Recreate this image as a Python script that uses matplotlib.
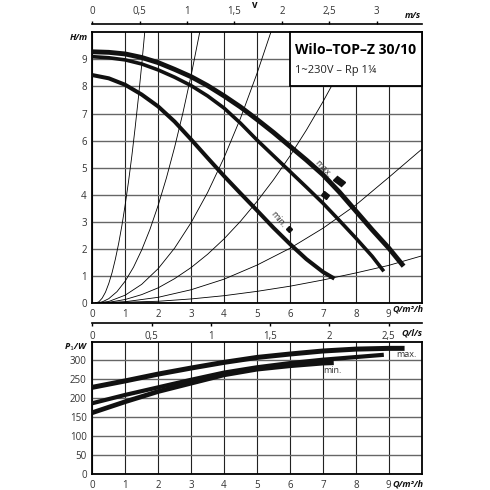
import matplotlib
matplotlib.use("Agg")
import matplotlib.pyplot as plt
from matplotlib.markers import MarkerStyle
from matplotlib.transforms import Affine2D
from matplotlib.patches import Rectangle

plt.rcParams['font.family'] = ['Open Sans', 'DejaVu Sans']

# --- pump curves H(Q)
q_max = [0, 0.5, 1, 1.5, 2, 2.5, 3, 3.5, 4, 4.5, 5, 5.5, 6, 6.5, 7, 7.5, 8, 8.5, 9, 9.45]
h_max = [9.28, 9.26, 9.2, 9.07, 8.88, 8.63, 8.36, 8.03, 7.65, 7.24, 6.78, 6.3,
         5.79, 5.28, 4.74, 4.1, 3.4, 2.7, 2.03, 1.36]
q_mid = [0, 0.5, 1, 1.5, 2, 2.5, 3, 3.5, 4, 4.5, 5, 5.5, 6, 6.5, 7, 7.5, 8, 8.5, 8.85]
h_mid = [9.1, 9.06, 8.98, 8.83, 8.61, 8.34, 8.03, 7.65, 7.2, 6.64, 6.02, 5.44,
         4.86, 4.28, 3.69, 3.05, 2.4, 1.72, 1.17]
q_min = [0, 0.5, 1, 1.5, 2, 2.5, 3, 3.5, 4, 4.5, 5, 5.5, 6, 6.5, 7, 7.35]
h_min = [8.42, 8.3, 8.06, 7.7, 7.26, 6.7, 6.04, 5.36, 4.69, 4.05, 3.42, 2.78,
         2.18, 1.62, 1.15, 0.9]

# thin system curves (Q, H) pairs
sys_curves = [
    ([0.1, 0.2, 0.3, 0.4, 0.5, 0.6, 0.7, 0.8, 0.9, 1.0, 1.1, 1.2, 1.3, 1.4, 1.5, 1.62],
     [0, 0.045, 0.18, 0.40, 0.72, 1.12, 1.62, 2.2, 2.87, 3.64, 4.49, 5.43, 6.47,
      7.59, 8.8, 10.37]),
    ([0.1, 0.3, 0.5, 0.75, 1.0, 1.25, 1.5, 1.75, 2.0, 2.25, 2.5, 2.75, 3.0, 3.3],
     [0, 0.04, 0.16, 0.42, 0.81, 1.32, 1.96, 2.72, 3.61, 4.62, 5.76, 7.02, 8.41, 10.24]),
    ([0.1, 0.5, 1, 1.5, 2, 2.5, 3, 3.5, 4, 4.5, 5, 5.5],
     [0, 0.056, 0.29, 0.69, 1.27, 2.03, 2.97, 4.08, 5.37, 6.83, 8.48, 10.29]),
    ([0.1, 0.5, 1, 1.5, 2, 2.5, 3, 3.5, 4, 4.5, 5, 5.5, 6, 6.5, 7, 7.5, 8, 8.1],
     [0, 0.025, 0.13, 0.31, 0.56, 0.90, 1.31, 1.80, 2.37, 3.02, 3.75, 4.55, 5.43,
      6.39, 7.43, 8.54, 9.74, 9.98]),
    ([0.1, 1, 2, 3, 4, 5, 6, 7, 8, 9, 10],
     [0, 0.047, 0.21, 0.49, 0.88, 1.40, 2.02, 2.76, 3.62, 4.64, 5.68]),
    ([0.1, 2, 3, 4, 5, 6, 7, 8, 9, 10],
     [0, 0.064, 0.15, 0.27, 0.43, 0.62, 0.85, 1.11, 1.39, 1.74]),
]

# duty point markers
mark_q = [7.5, 7.05, 5.97]
mark_h = [4.52, 4.0, 2.72]

# --- power curves P1(Q)
pq_max = [0, 1, 2, 3, 4, 5, 6, 7, 8, 9, 9.48]
p_max = [229, 246, 264, 280, 295, 308, 317, 325, 330, 332, 332]
pq_mid = [0, 1, 2, 3, 4, 5, 6, 7, 8, 8.85]
p_mid = [187, 209, 229, 249, 268, 282, 293, 302, 309, 315]
pq_min = [0, 1, 2, 3, 4, 5, 6, 7, 7.33]
p_min = [162, 191, 218, 240, 262, 277, 286, 293, 294]

q_ticks = list(range(10))
h_ticks = list(range(10))
p_ticks = [0, 50, 100, 150, 200, 250, 300]
v_ticks = [0, 0.5, 1, 1.5, 2, 2.5, 3]
v_labels = ['0', '0,5', '1', '1,5', '2', '2,5', '3']
ls_ticks = [0, 0.5, 1, 1.5, 2, 2.5]
ls_labels = ['0', '0,5', '1', '1,5', '2', '2,5']

W = 490.0
def box(x0, y0, x1, y1):
    return [x0 / W, 1 - y1 / W, (x1 - x0) / W, (y1 - y0) / W]

fig = plt.figure(figsize=(4.9, 4.9), dpi=100)
fig.patch.set_facecolor('white')

TICK_C = '#333333'
FS = 7

def style_axes(ax):
    for s in ax.spines.values():
        s.set_linewidth(1.3)
        s.set_color('black')
    ax.tick_params(length=0, labelsize=FS, labelcolor=TICK_C, pad=4)
    ax.xaxis.grid(True, color='#222222', lw=0.8)
    ax.yaxis.grid(True, color='#666666', lw=1.0)
    ax.set_axisbelow(True)

# ---------- top chart
ax1 = fig.add_axes(box(92.3, 32.3, 421.7, 303))
ax1.set_xlim(0, 10)
ax1.set_ylim(0, 10)
ax1.set_xticks(q_ticks)
ax1.set_yticks(h_ticks)
style_axes(ax1)

for qs, hs in sys_curves:
    ax1.plot(qs, hs, color='black', lw=0.6, zorder=2)

ax1.plot(q_max, h_max, color='#111111', lw=3.5, solid_capstyle='butt', zorder=3)
ax1.plot(q_mid, h_mid, color='#111111', lw=2.6, solid_capstyle='butt', zorder=3)
ax1.plot(q_min, h_min, color='#111111', lw=2.9, solid_capstyle='butt', zorder=3)

mk_scale = [(2.0, 1.1), (1.4, 1.1), (1.0, 1.2)]
mk_size = [3.6, 3.5, 3.0]
for q, h, sc, ms in zip(mark_q, mark_h, mk_scale, mk_size):
    m = MarkerStyle('s', transform=Affine2D().scale(*sc).rotate_deg(-42))
    ax1.plot([q], [h], marker=m, ms=ms, color='#111111', ls='none', zorder=4)

ax1.text(7.01, 4.96, 'max.', rotation=-47, fontsize=6.5, color='#333333',
         ha='center', va='center', zorder=4)
ax1.text(5.64, 3.1, 'min.', rotation=-50, fontsize=6.5, color='#333333',
         ha='center', va='center', zorder=4)

ax1.add_patch(Rectangle((6, 8), 4, 2, facecolor='white', edgecolor='black',
                        lw=1.3, zorder=5, clip_on=False))
ax1.text(6.15, 9.35, 'Wilo–TOP–Z 30/10', fontsize=10, fontweight='bold',
         ha='left', va='center', zorder=6)
ax1.text(6.15, 8.6, '1~230V – Rp 1¼', fontsize=8, ha='left', va='center',
         color='#222222', zorder=6)

# velocity axis on top
axv = fig.add_axes(box(92.3, 23.6, 421.7, 24))
axv.set_xlim(0, 3.475)
axv.set_ylim(0, 1)
axv.patch.set_visible(False)
for k in ['left', 'right', 'bottom']:
    axv.spines[k].set_visible(False)
axv.spines['top'].set_linewidth(1.2)
axv.set_yticks([])
axv.xaxis.tick_top()
axv.set_xticks(v_ticks)
axv.set_xticklabels(v_labels)
axv.tick_params(axis='x', direction='out', length=2.5, width=1.0,
                labelsize=FS, labelcolor=TICK_C, pad=2)

# ---------- l/s axis between charts
axl = fig.add_axes(box(92.3, 322.7, 421.7, 323.1))
axl.set_xlim(0, 10 / 3.6)
axl.set_ylim(0, 1)
axl.patch.set_visible(False)
for k in ['left', 'right', 'top']:
    axl.spines[k].set_visible(False)
axl.spines['bottom'].set_linewidth(1.2)
axl.set_yticks([])
axl.set_xticks(ls_ticks)
axl.set_xticklabels(ls_labels)
axl.tick_params(axis='x', direction='out', length=2.5, width=1.0,
                labelsize=FS, labelcolor=TICK_C, pad=3)

# ---------- bottom chart
ax2 = fig.add_axes(box(92.3, 342.3, 421.7, 474))
ax2.set_xlim(0, 10)
ax2.set_ylim(0, 348)
ax2.set_xticks(q_ticks)
ax2.set_yticks(p_ticks)
style_axes(ax2)

ax2.plot(pq_max, p_max, color='#111111', lw=3.6, solid_capstyle='butt', zorder=3)
ax2.plot(pq_mid, p_mid, color='#111111', lw=3.0, solid_capstyle='butt', zorder=3)
ax2.plot(pq_min, p_min, color='#111111', lw=3.4, solid_capstyle='butt', zorder=3)
ax2.text(9.23, 315, 'max.', fontsize=6.5, color='#333333', ha='left', va='center')
ax2.text(7.0, 273, 'min.', fontsize=6.5, color='#333333', ha='left', va='center')

# ---------- axis titles
lab = dict(fontsize=6.5, fontweight='bold', fontstyle='italic', color='#111111')
fig.text(88 / W, 1 - 38 / W, 'H/m', ha='right', va='center', **lab)
fig.text(88 / W, 1 - 347 / W, 'P$_1$/W', ha='right', va='center', **lab)
fig.text(423 / W, 1 - 309 / W, 'Q/m³/h', ha='right', va='center', **lab)
fig.text(422 / W, 1 - 333 / W, 'Q/l/s', ha='right', va='center', **lab)
fig.text(423 / W, 1 - 484 / W, 'Q/m³/h', ha='right', va='center', **lab)
fig.text(421 / W, 1 - 16 / W, 'm/s', ha='right', va='center', **lab)
fig.text(255 / W, 1 - 6 / W, 'v', ha='center', va='center', fontsize=7,
         fontweight='bold', color='#111111')

fig.savefig('out.png', dpi=100, facecolor='white')
